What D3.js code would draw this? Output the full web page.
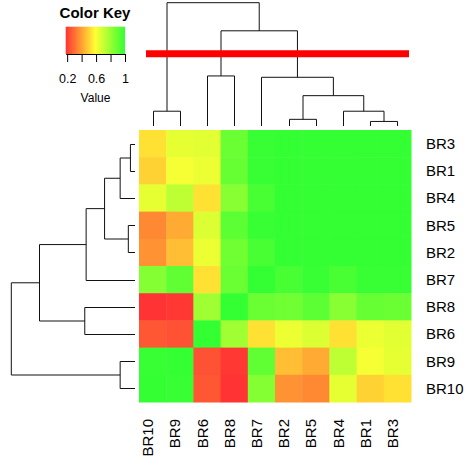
<!DOCTYPE html>
<html>
<head>
<meta charset="utf-8">
<script src="https://cdn.jsdelivr.net/npm/d3@7"></script>
<style>
  body { margin: 0; background: #fff; }
  svg { display: block; font-family: "Liberation Sans", Arial, sans-serif; }
</style>
</head>
<body>
<div id="chart"></div>
<script>

// row order, top to bottom
const rowLabels = ["BR3", "BR1", "BR4", "BR5", "BR2", "BR7", "BR8", "BR6", "BR9", "BR10"];
// column order, left to right
const colLabels = ["BR10", "BR9", "BR6", "BR8", "BR7", "BR2", "BR5", "BR4", "BR1", "BR3"];

// correlation values, one row per rowLabels entry, in colLabels order
const values = [
    [0.53, 0.64, 0.65, 0.89, 0.99, 1.00, 1.00, 1.00, 1.00, 1.00],
    [0.50, 0.61, 0.63, 0.90, 0.99, 1.00, 1.00, 1.00, 1.00, 1.00],
    [0.64, 0.72, 0.53, 0.83, 0.96, 1.00, 1.00, 1.00, 1.00, 1.00],
    [0.35, 0.42, 0.66, 0.92, 0.99, 1.00, 1.00, 1.00, 1.00, 1.00],
    [0.37, 0.46, 0.63, 0.88, 0.96, 1.00, 1.00, 1.00, 1.00, 1.00],
    [0.84, 0.91, 0.53, 0.89, 1.00, 0.96, 0.99, 0.96, 0.99, 0.99],
    [0.18, 0.19, 0.78, 1.00, 0.89, 0.88, 0.92, 0.83, 0.90, 0.89],
    [0.25, 0.24, 1.00, 0.78, 0.53, 0.63, 0.66, 0.53, 0.63, 0.65],
    [0.99, 1.00, 0.24, 0.19, 0.91, 0.46, 0.42, 0.72, 0.61, 0.64],
    [1.00, 0.99, 0.25, 0.18, 0.84, 0.37, 0.35, 0.64, 0.50, 0.53]
];

// hclust-style merges: [left, right, height]; numbers point to earlier merges
const merges = [
    ["BR1", "BR3", 0.037],
    ["BR2", "BR5", 0.054],
    ["BR4", 0, 0.12],
    ["BR10", "BR9", 0.12],
    [1, 2, 0.246],
    ["BR7", 4, 0.395],
    ["BR6", "BR8", 0.406],
    [6, 5, 0.772],
    [3, 7, 1.0]
];

const cutHeight = 0.585;

const keyTicks = [0.2, 0.4, 0.6, 0.8, 1];
const keyTickLabels = ["0.2", "", "0.6", "", "1"];

const width = 467, height = 465;

const svg = d3.select("#chart").append("svg")
    .attr("width", width)
    .attr("height", height);

// heatmap scales
const x = d3.scaleBand().domain(colLabels).range([139, 411]);
const y = d3.scaleBand().domain(rowLabels).range([130, 402]);

const color = d3.scaleLinear()
    .domain([0.18, 0.59, 1])
    .range(["#ff3333", "#ffff33", "#33ff33"]);

// cells
const cells = [];
rowLabels.forEach((r, i) => {
    colLabels.forEach((c, j) => cells.push({row: r, col: c, value: values[i][j]}));
});

svg.append("g").selectAll("rect")
    .data(cells)
    .enter().append("rect")
    .attr("x", d => x(d.col))
    .attr("y", d => y(d.row))
    .attr("width", x.bandwidth() + 0.5)
    .attr("height", y.bandwidth() + 0.5)
    .attr("fill", d => color(d.value));

// row labels
svg.append("g").selectAll("text")
    .data(rowLabels)
    .enter().append("text")
    .attr("x", 426)
    .attr("y", d => y(d) + y.bandwidth() / 2 + 5.3)
    .attr("font-size", 15)
    .text(d => d);

// column labels
svg.append("g").selectAll("text")
    .data(colLabels)
    .enter().append("text")
    .attr("transform", d => `translate(${x(d) + x.bandwidth() / 2 + 0.5}, 419) rotate(-90)`)
    .attr("text-anchor", "end")
    .attr("font-size", 15)
    .text(d => d);

// dendrograms
function drawDendro(g, leafPos, hScale, vertical) {
    const pos = [];
    const h = [];
    const place = k => typeof k === "number" ? pos[k] : leafPos(k);
    const hgt = k => typeof k === "number" ? h[k] : 0;

    merges.forEach(([a, b, mh], i) => {
        const pa = place(a), pb = place(b);
        pos[i] = (pa + pb) / 2;
        h[i] = mh;
        const ya = hScale(hgt(a)), yb = hScale(hgt(b)), ym = hScale(mh);
        let d;
        if (vertical) {
            d = `M${pa},${ya}V${ym}H${pb}V${yb}`;
        } else {
            d = `M${ya},${pa}H${ym}V${pb}H${yb}`;
        }
        g.append("path")
            .attr("d", d)
            .attr("fill", "none")
            .attr("stroke", "#111")
            .attr("stroke-width", 1);
    });
}

const colH = d3.scaleLinear().domain([0, 1]).range([126, 2.7]);
const rowH = d3.scaleLinear().domain([0, 1]).range([135, 11.3]);

drawDendro(svg.append("g"), k => Math.round(x(k) + x.bandwidth() / 2) + 0.5, colH, true);
drawDendro(svg.append("g"), k => Math.round(y(k) + y.bandwidth() / 2) + 0.5, rowH, false);

// cut line
svg.append("line")
    .attr("x1", 146)
    .attr("x2", 409)
    .attr("y1", colH(cutHeight))
    .attr("y2", colH(cutHeight))
    .attr("stroke", "#ff0000")
    .attr("stroke-width", 7);

// color key
const keyX = d3.scaleLinear().domain([0.18, 1]).range([65.7, 125]);

const grad = svg.append("defs").append("linearGradient")
    .attr("id", "keygrad");
d3.range(0, 1.0001, 0.05).forEach(t => {
    const v = 0.18 + t * 0.82;
    grad.append("stop")
        .attr("offset", t)
        .attr("stop-color", color(v));
});

svg.append("rect")
    .attr("x", keyX(0.18))
    .attr("y", 26.7)
    .attr("width", keyX(1) - keyX(0.18))
    .attr("height", 27.3)
    .attr("fill", "url(#keygrad)");

const keyAxis = svg.append("g")
    .attr("transform", "translate(0,54)")
    .call(d3.axisBottom(keyX)
        .tickValues(keyTicks)
        .tickFormat((d, i) => keyTickLabels[i])
        .tickSize(8)
        .tickSizeOuter(0)
        .tickPadding(12));

keyAxis.selectAll("text")
    .attr("font-size", 12.5)
    .attr("font-family", "Liberation Sans, Arial, sans-serif")
    .attr("fill", "#000");
keyAxis.selectAll("line, path").attr("stroke", "#000");

svg.append("text")
    .attr("x", 95)
    .attr("y", 18)
    .attr("text-anchor", "middle")
    .attr("font-size", 15)
    .attr("font-weight", "bold")
    .text("Color Key");

svg.append("text")
    .attr("x", 95.5)
    .attr("y", 102)
    .attr("text-anchor", "middle")
    .attr("font-size", 12)
    .text("Value");

</script>
</body>
</html>
